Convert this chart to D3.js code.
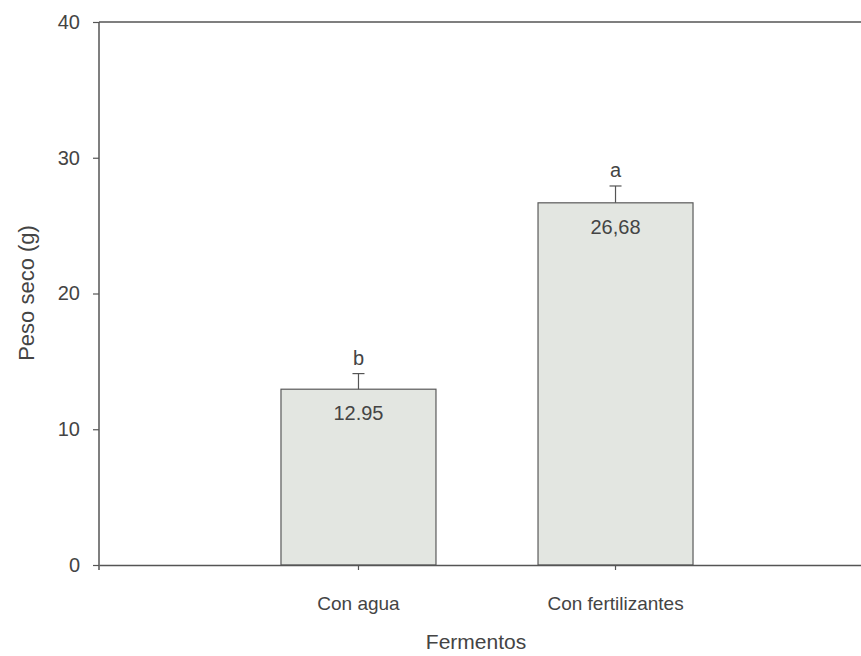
<!DOCTYPE html>
<html>
<head>
<meta charset="utf-8">
<script src="https://cdn.jsdelivr.net/npm/d3@7"></script>
<style>
  html, body { margin: 0; padding: 0; background: #fff; }
  svg { display: block; font-family: Arial, "Liberation Sans", sans-serif; }
</style>
</head>
<body>
<svg id="chart" width="861" height="656"></svg>
<script>
// Dry weight by fermentation treatment
const categories = ["Con agua", "Con fertilizantes"];
const means = [12.95, 26.68];
const errors = [1.15, 1.24];
const valueLabels = ["12.95", "26,68"];
const groupLetters = ["b", "a"];
const yTicks = [0, 10, 20, 30, 40];

const svg = d3.select("#chart");
const axisColor = "#555";
const textColor = "#444";
const font = "Arial, 'Liberation Sans', sans-serif";

const y = d3.scaleLinear().domain([0, 40]).range([565, 22]);
const x = d3.scaleBand()
  .domain(categories)
  .range([99, 875])
  .paddingInner(0.397)
  .paddingOuter(0.708);

// frame: top line runs across the plot
svg.append("line")
  .attr("x1", x.range()[0]).attr("x2", x.range()[1])
  .attr("y1", y(40)).attr("y2", y(40))
  .attr("stroke", axisColor).attr("stroke-width", 1.5);

// bars
svg.append("g").selectAll("rect")
  .data(categories)
  .join("rect")
  .attr("x", d => x(d))
  .attr("y", (d, i) => y(means[i]))
  .attr("width", x.bandwidth())
  .attr("height", (d, i) => y(0) - y(means[i]))
  .attr("fill", "#e3e6e1")
  .attr("stroke", "#5a5a5a")
  .attr("stroke-width", 1.2);

// error bars (upper only)
const eb = svg.append("g").attr("stroke", "#555").attr("stroke-width", 1.2);
categories.forEach((c, i) => {
  const cx = x(c) + x.bandwidth() / 2;
  eb.append("line")
    .attr("x1", cx).attr("x2", cx)
    .attr("y1", y(means[i])).attr("y2", y(means[i] + errors[i]));
  eb.append("line")
    .attr("x1", cx - 6).attr("x2", cx + 6)
    .attr("y1", y(means[i] + errors[i])).attr("y2", y(means[i] + errors[i]));
});

// value labels inside bars
svg.append("g").selectAll("text")
  .data(categories)
  .join("text")
  .attr("x", d => x(d) + x.bandwidth() / 2)
  .attr("y", (d, i) => y(means[i]) + 31)
  .attr("text-anchor", "middle")
  .attr("font-size", 20)
  .attr("fill", textColor)
  .text((d, i) => valueLabels[i]);

// significance letters
svg.append("g").selectAll("text")
  .data(categories)
  .join("text")
  .attr("x", d => x(d) + x.bandwidth() / 2)
  .attr("y", (d, i) => y(means[i] + errors[i]) - 9)
  .attr("text-anchor", "middle")
  .attr("font-size", 20)
  .attr("fill", textColor)
  .text((d, i) => groupLetters[i]);

// y axis
const yAxis = svg.append("g")
  .attr("transform", "translate(99,0)")
  .call(d3.axisLeft(y).tickValues(yTicks).tickSize(6).tickSizeOuter(0).tickPadding(13));
yAxis.select(".domain").attr("stroke", axisColor).attr("stroke-width", 1.5)
  .attr("d", `M0,${y(40)}V${y(0) + 5}`);
yAxis.selectAll(".tick line").attr("stroke", axisColor).attr("stroke-width", 1.2);
yAxis.selectAll(".tick text").attr("font-size", 20).attr("fill", textColor)
  .attr("font-family", font);

// x axis
const xAxis = svg.append("g")
  .attr("transform", `translate(0,${y(0)})`)
  .call(d3.axisBottom(x).tickSize(5).tickSizeOuter(0).tickPadding(27));
xAxis.select(".domain").attr("stroke", axisColor).attr("stroke-width", 1.5);
xAxis.selectAll(".tick line").attr("stroke", axisColor).attr("stroke-width", 1.2);
xAxis.selectAll(".tick text").attr("font-size", 19).attr("fill", textColor)
  .attr("font-family", font);

// axis titles
svg.append("text")
  .attr("x", 476).attr("y", 649)
  .attr("text-anchor", "middle")
  .attr("font-size", 21)
  .attr("fill", textColor)
  .text("Fermentos");

svg.append("text")
  .attr("transform", "translate(34,293) rotate(-90)")
  .attr("text-anchor", "middle")
  .attr("font-size", 22)
  .attr("fill", textColor)
  .text("Peso seco (g)");
</script>
</body>
</html>
